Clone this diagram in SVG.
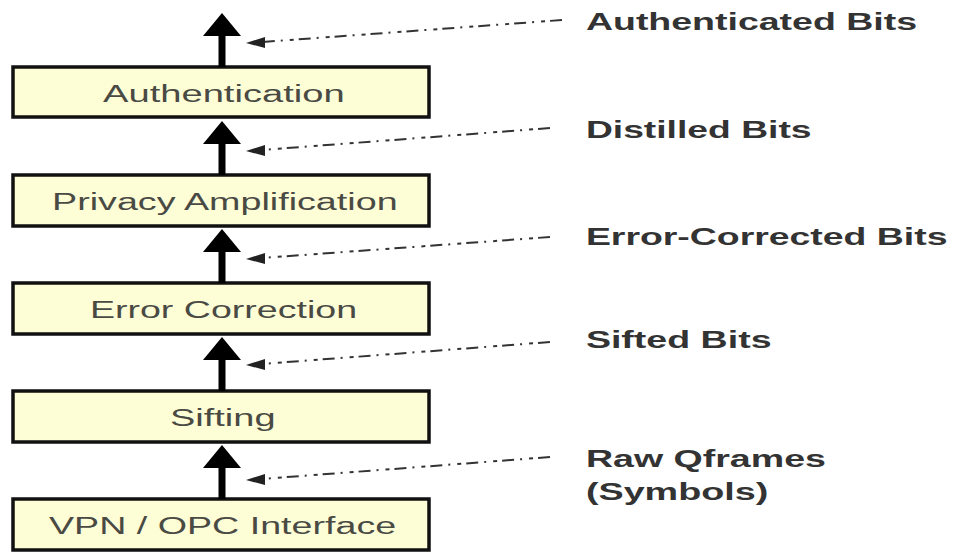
<svg xmlns="http://www.w3.org/2000/svg" width="956" height="552" viewBox="0 0 956 552">
  <defs>
    <style>
      .box { fill: #fdfdd6; stroke: #111; stroke-width: 3.5; }
      .boxtxt { font-family: "Liberation Sans", Arial, sans-serif; font-size: 23px; fill: #4a4a44; }
      .lbl { font-family: "Liberation Sans", Arial, sans-serif; font-size: 23px; font-weight: bold; fill: #333; }
      .shaft { stroke: #000; stroke-width: 7; fill: none; }
      .head { fill: #000; }
      .dash { stroke: #333; stroke-width: 2; fill: none; stroke-dasharray: 12 5 4 7 2 6; }
      .dhead { fill: #222; }
    </style>
  </defs>

  <rect width="956" height="552" fill="#fff"/>

  <!-- processing stages (text drawn in a horizontally widened frame) -->
  <g id="authentication">
    <rect class="box" x="13" y="67" width="416" height="50"/>
    <text class="boxtxt" transform="scale(1.6 1)" x="64.4" y="102" textLength="151" lengthAdjust="spacingAndGlyphs">Authentication</text>
  </g>
  <g id="privacy-amplification">
    <rect class="box" x="13" y="175" width="416" height="51"/>
    <text class="boxtxt" transform="scale(1.6 1)" x="32.5" y="210" textLength="216" lengthAdjust="spacingAndGlyphs">Privacy Amplification</text>
  </g>
  <g id="error-correction">
    <rect class="box" x="13" y="283" width="416" height="51"/>
    <text class="boxtxt" transform="scale(1.6 1)" x="56.2" y="318" textLength="167" lengthAdjust="spacingAndGlyphs">Error Correction</text>
  </g>
  <g id="sifting">
    <rect class="box" x="13" y="391" width="416" height="51"/>
    <text class="boxtxt" transform="scale(1.6 1)" x="106.2" y="426" textLength="66" lengthAdjust="spacingAndGlyphs">Sifting</text>
  </g>
  <g id="vpn-opc-interface">
    <rect class="box" x="13" y="499" width="416" height="51"/>
    <text class="boxtxt" transform="scale(1.6 1)" x="30.6" y="534" textLength="217" lengthAdjust="spacingAndGlyphs">VPN / OPC Interface</text>
  </g>

  <!-- data labels -->
  <g id="authenticated-bits">
    <text class="lbl" transform="scale(1.6 1)" x="366.2" y="30" textLength="207" lengthAdjust="spacingAndGlyphs">Authenticated Bits</text>
  </g>
  <g id="distilled-bits">
    <text class="lbl" transform="scale(1.6 1)" x="366.2" y="138" textLength="141" lengthAdjust="spacingAndGlyphs">Distilled Bits</text>
  </g>
  <g id="error-corrected-bits">
    <text class="lbl" transform="scale(1.6 1)" x="366.2" y="245" textLength="226" lengthAdjust="spacingAndGlyphs">Error-Corrected Bits</text>
  </g>
  <g id="sifted-bits">
    <text class="lbl" transform="scale(1.6 1)" x="366.2" y="348" textLength="116" lengthAdjust="spacingAndGlyphs">Sifted Bits</text>
  </g>
  <g id="raw-qframes">
    <text class="lbl" transform="scale(1.6 1)" x="366.2" y="467" textLength="150" lengthAdjust="spacingAndGlyphs">Raw Qframes</text>
    <text class="lbl" transform="scale(1.6 1)" x="366.2" y="500" textLength="114" lengthAdjust="spacingAndGlyphs">(Symbols)</text>
  </g>

  <!-- connectors -->
  <g id="connectors">
    <!-- upward flow arrows -->
    <line class="shaft" x1="222" y1="67" x2="222" y2="33"/>
    <polygon class="head" points="222,13 241,36 203,36"/>
    <line class="shaft" x1="222" y1="175" x2="222" y2="141"/>
    <polygon class="head" points="222,121 241,144 203,144"/>
    <line class="shaft" x1="222" y1="283" x2="222" y2="249"/>
    <polygon class="head" points="222,229 241,252 203,252"/>
    <line class="shaft" x1="222" y1="391" x2="222" y2="357"/>
    <polygon class="head" points="222,337 241,360 203,360"/>
    <line class="shaft" x1="222" y1="499" x2="222" y2="465"/>
    <polygon class="head" points="222,445 241,468 203,468"/>

    <!-- dashed label pointers -->
    <line class="dash" x1="562" y1="20" x2="262" y2="42"/>
    <polygon class="dhead" points="246,43 265,37 265,48"/>
    <line class="dash" x1="550" y1="128" x2="262" y2="150"/>
    <polygon class="dhead" points="246,151 265,145 265,156"/>
    <line class="dash" x1="550" y1="237" x2="262" y2="258"/>
    <polygon class="dhead" points="246,259 265,253 265,264"/>
    <line class="dash" x1="550" y1="342" x2="262" y2="364"/>
    <polygon class="dhead" points="246,365 265,359 265,370"/>
    <line class="dash" x1="550" y1="457" x2="262" y2="479"/>
    <polygon class="dhead" points="246,480 265,474 265,485"/>
  </g>
</svg>
